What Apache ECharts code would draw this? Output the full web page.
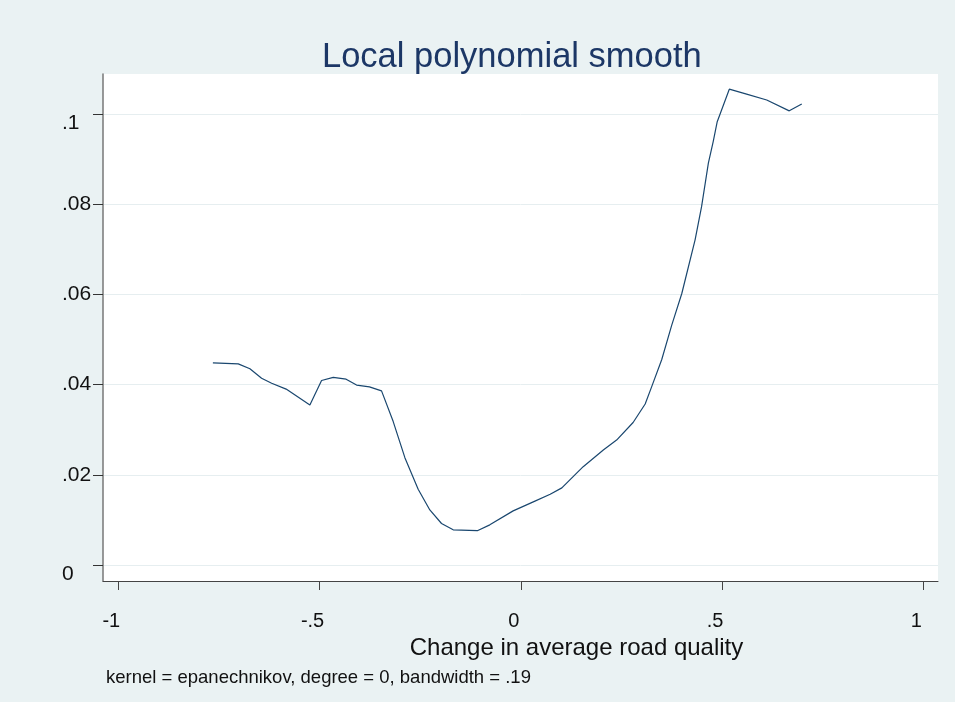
<!DOCTYPE html>
<html>
<head>
<meta charset="utf-8">
<script src="https://cdn.jsdelivr.net/npm/echarts@6/dist/echarts.min.js"></script>
<style>
  html, body { margin: 0; padding: 0; background: #EAF2F3; }
  #chart { width: 955px; height: 702px; }
</style>
</head>
<body>
<div id="chart"></div>
<script>
// Change in average road quality (x) and smoothed estimate (y)
const roadQualityChange = [
  -0.765, -0.702, -0.673, -0.644, -0.619, -0.583, -0.524, -0.495, -0.466, -0.434,
  -0.408, -0.376, -0.346, -0.317, -0.288, -0.255, -0.226, -0.197, -0.168, -0.108,
  -0.077, -0.019, 0.031, 0.073, 0.102, 0.155, 0.205, 0.238, 0.279, 0.309,
  0.325, 0.350, 0.375, 0.400, 0.433, 0.449, 0.466, 0.478, 0.488, 0.518,
  0.561, 0.611, 0.667, 0.698
];
const smoothValues = [
  0.0448, 0.0446, 0.0435, 0.0414, 0.0403, 0.0390, 0.0355, 0.0409, 0.0416, 0.0412,
  0.0399, 0.0395, 0.0386, 0.0318, 0.0238, 0.0168, 0.0122, 0.0092, 0.0078, 0.0076,
  0.0089, 0.0120, 0.0140, 0.0157, 0.0171, 0.0218, 0.0255, 0.0277, 0.0316, 0.0357,
  0.0395, 0.0455, 0.0532, 0.0602, 0.0721, 0.0794, 0.0891, 0.0939, 0.0983, 0.1055,
  0.1044, 0.1031, 0.1007, 0.1022
];

const xTickValues = [-1, -0.5, 0, 0.5, 1];
const xTickLabels = ['-1', '-.5', '0', '.5', '1'];
const yTickValues = [0, 0.02, 0.04, 0.06, 0.08, 0.1];
const yTickLabels = ['0', '.02', '.04', '.06', '.08', '.1'];

const titleText = 'Local polynomial smooth';
const xAxisTitle = 'Change in average road quality';
const noteText = 'kernel = epanechnikov, degree = 0, bandwidth = .19';

const FONT = '"Liberation Sans", Arial, Helvetica, sans-serif';
const NAVY = '#1A476F';

const chart = echarts.init(document.getElementById('chart'), null, { renderer: 'canvas' });

const points = roadQualityChange.map((x, i) => [x, smoothValues[i]]);

function tickIndex(values, v) {
  return values.findIndex(t => Math.abs(t - v) < 1e-9);
}

chart.setOption({
  backgroundColor: '#EAF2F3',
  animation: false,
  title: [
    {
      text: titleText,
      left: 322,
      top: 40,
      padding: 0,
      textStyle: { fontFamily: FONT, fontSize: 34.5, fontWeight: 'normal', color: '#1c3766' }
    },
    {
      text: noteText,
      left: 106,
      top: 668,
      padding: 0,
      textStyle: { fontFamily: FONT, fontSize: 18.5, fontWeight: 'normal', color: '#111' }
    }
  ],
  grid: {
    left: 103, right: 17, top: 74, bottom: 121,
    show: true, backgroundColor: '#ffffff', borderWidth: 0
  },
  xAxis: {
    type: 'value',
    min: -1.038, max: 1.0365,
    name: xAxisTitle,
    nameLocation: 'middle',
    nameGap: 53,
    nameTextStyle: { fontFamily: FONT, fontSize: 24, color: '#111', padding: [0, 0, 0, 112] },
    axisLine: { show: true, onZero: false, lineStyle: { color: '#444', width: 1 } },
    axisTick: { show: true, length: 9, customValues: xTickValues, lineStyle: { color: '#444' } },
    axisLabel: {
      show: true, customValues: xTickValues, margin: 30,
      fontFamily: FONT, fontSize: 20, color: '#111', padding: [0, 14, 0, 0],
      formatter: v => xTickLabels[tickIndex(xTickValues, v)]
    },
    splitLine: { show: false }
  },
  yAxis: {
    type: 'value',
    min: -0.00355, max: 0.10887,
    axisLine: { show: true, onZero: false, lineStyle: { color: '#777', width: 1.5 } },
    axisTick: { show: true, length: 10, customValues: yTickValues, lineStyle: { color: '#333' } },
    axisLabel: {
      show: true, customValues: yTickValues, margin: 41, align: 'left',
      fontFamily: FONT, fontSize: 21, color: '#111',
      formatter: v => {
        const i = tickIndex(yTickValues, v);
        // the end labels sit a little below their ticks
        const edge = i === 0 || i === yTickValues.length - 1;
        return edge ? '{low|' + yTickLabels[i] + '}' : yTickLabels[i];
      },
      rich: {
        low: { fontFamily: FONT, fontSize: 21, color: '#111', padding: [18, 0, 0, 0] }
      }
    },
    splitLine: { show: true, lineStyle: { color: '#E6EEF0', width: 1 } }
  },
  series: [
    {
      type: 'line',
      data: points,
      showSymbol: false,
      symbol: 'none',
      lineStyle: { color: NAVY, width: 1.2 },
      silent: true
    }
  ]
});
</script>
</body>
</html>
